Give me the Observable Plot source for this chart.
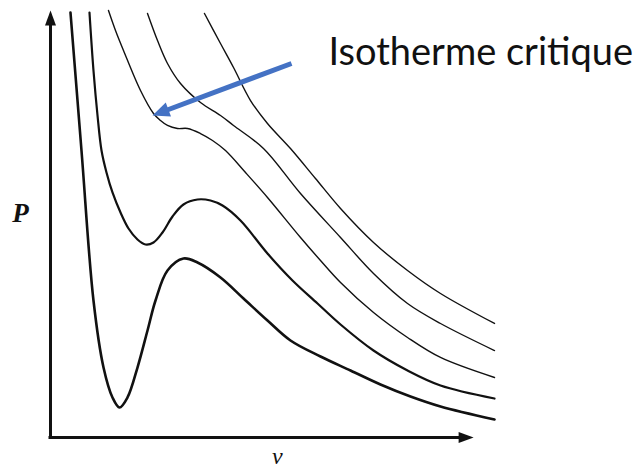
<!DOCTYPE html>
<html>
<head>
<meta charset="utf-8">
<script src="https://cdn.jsdelivr.net/npm/d3@7"></script>
<script src="https://cdn.jsdelivr.net/npm/@observablehq/plot@0.6"></script>
<style>
  html, body { margin: 0; padding: 0; background: #fff; }
  #chart svg { display: block; }
</style>
</head>
<body>
<div id="chart"></div>
<script>
// ---- Data: van der Waals isotherms (v, P in arbitrary units) ----
const iso1V = [0.45, 0.698, 0.968, 1.194, 1.396, 1.554, 1.734, 1.959, 2.185, 2.365, 2.635, 2.995, 3.311, 3.829, 4.347, 4.887, 5.405, 6.081, 6.757, 7.432, 8.108, 8.784, 10.0];
const iso1P = [9.953, 6.721, 3.208, 1.639, 0.937, 0.703, 0.937, 1.639, 2.506, 3.208, 3.911, 4.192, 4.098, 3.747, 3.255, 2.740, 2.272, 1.897, 1.569, 1.241, 0.960, 0.726, 0.422];

const iso2V = [0.878, 0.968, 1.059, 1.149, 1.261, 1.396, 1.577, 1.757, 1.959, 2.140, 2.320, 2.523, 2.748, 2.995, 3.311, 3.604, 3.874, 4.279, 4.887, 5.450, 6.014, 6.532, 7.275, 8.041, 8.784, 10.0];
const iso2P = [9.953, 8.595, 7.541, 6.721, 6.206, 5.738, 5.269, 4.895, 4.637, 4.520, 4.567, 4.801, 5.176, 5.457, 5.574, 5.550, 5.433, 5.082, 4.309, 3.677, 3.138, 2.646, 2.037, 1.569, 1.218, 0.913];

// critical isotherm
const iso3V = [1.306, 1.464, 1.644, 2.027, 2.320, 2.477, 2.635, 2.860, 3.086, 3.378, 3.649, 3.941, 4.392, 4.887, 5.631, 6.081, 6.532, 7.275, 8.041, 8.784, 10.0];
const iso3P = [10.0, 9.532, 9.063, 8.126, 7.588, 7.424, 7.307, 7.237, 7.237, 7.119, 6.956, 6.721, 6.206, 5.621, 4.684, 4.145, 3.630, 2.927, 2.342, 1.874, 1.405];

const iso4V = [2.185, 2.410, 2.635, 2.928, 3.378, 3.829, 4.122, 4.797, 5.631, 6.532, 7.275, 8.041, 8.784, 10.0];
const iso4P = [9.930, 9.297, 8.759, 8.290, 7.845, 7.541, 7.307, 6.768, 5.714, 4.684, 3.841, 3.138, 2.670, 2.037];

const iso5V = [3.468, 3.829, 4.122, 4.505, 4.887, 5.405, 5.968, 6.532, 7.275, 8.041, 8.784, 10.0];
const iso5P = [9.930, 9.227, 8.665, 7.892, 7.354, 6.768, 6.066, 5.363, 4.567, 3.911, 3.372, 2.670];

// axis extents (data units) and annotation anchor points
const axisEndV = 9.53;
const axisEndP = 10.0;
const arrowStart = { v: 5.428, P: 8.759 };
const arrowTip = { v: 2.297, P: 7.541 };

// labels
const annotationLabel = "Isotherme critique";
const yLabel = "P";
const xLabel = "v";

// ---- Layout ----
const W = 641, H = 470;
const mL = 50, mR = 147, mT = 10, mB = 33;
const xDomain = [0, 10], yDomain = [0, 10];

const isotherms = [
  { v: iso1V, P: iso1P, width: 2.6 },
  { v: iso2V, P: iso2P, width: 2.2 },
  { v: iso3V, P: iso3P, width: 1.4 },
  { v: iso4V, P: iso4P, width: 1.4 },
  { v: iso5V, P: iso5P, width: 1.4 }
];

const sx = Plot.scale({ x: { domain: xDomain, range: [mL, W - mR] } });
const sy = Plot.scale({ y: { domain: yDomain, range: [H - mB, mT] } });
const pdx = sx.apply(arrowTip.v) - sx.apply(arrowStart.v);
const pdy = sy.apply(arrowTip.P) - sy.apply(arrowStart.P);
const pLen = Math.hypot(pdx, pdy);
const arrowAngle = Math.atan2(pdx, -pdy) * 180 / Math.PI;
const headLen = 17;
const f = (headLen - 2) / pLen;
const arrowBase = { v: arrowTip.v + (arrowStart.v - arrowTip.v) * f, P: arrowTip.P + (arrowStart.P - arrowTip.P) * f };

const ink = "#111";
const marks = [];

// axes
marks.push(Plot.ruleX([0], { y1: 0, y2: axisEndP - 0.3, stroke: ink, strokeWidth: 3, strokeLinecap: "square" }));
marks.push(Plot.ruleY([0], { x1: 0, x2: axisEndV - 0.3, stroke: ink, strokeWidth: 3, strokeLinecap: "square" }));
marks.push(Plot.vector([
  { v: 0, P: axisEndP, a: 0 },
  { v: axisEndV, P: 0, a: 90 }
], { x: "v", y: "P", rotate: "a", length: 15, r: 5.5, shape: "spike", anchor: "end", fill: ink, stroke: "none" }));

// isotherms
for (const s of isotherms) {
  const rows = s.v.map((v, i) => ({ v, P: s.P[i] }));
  marks.push(Plot.line(rows, { x: "v", y: "P", stroke: ink, strokeWidth: s.width, curve: "catmull-rom" }));
}

// annotation arrow
marks.push(Plot.link([0], { x1: arrowStart.v, y1: arrowStart.P, x2: arrowBase.v, y2: arrowBase.P, stroke: "#4472C4", strokeWidth: 5 }));
marks.push(Plot.vector([arrowTip], { x: "v", y: "P", rotate: arrowAngle, length: headLen, r: 7.5, shape: "spike", anchor: "end", fill: "#4472C4", stroke: "none" }));

// texts
marks.push(Plot.text([annotationLabel], { x: 6.26, y: 9.0, text: d => d, textAnchor: "start", fontSize: 38, fontFamily: "Lato", fill: ink }));
marks.push(Plot.text([yLabel], { x: -0.676, y: 5.24, text: d => d, fontSize: 27, fontFamily: "Liberation Serif", fontStyle: "italic", fontWeight: "bold", fill: ink }));
marks.push(Plot.text([xLabel], { x: 5.11, y: -0.445, text: d => d, fontSize: 24, fontFamily: "Liberation Serif", fontStyle: "italic", fill: ink }));

const chart = Plot.plot({
  width: W,
  height: H,
  marginLeft: mL,
  marginRight: mR,
  marginTop: mT,
  marginBottom: mB,
  x: { domain: xDomain, axis: null },
  y: { domain: yDomain, axis: null },
  style: { background: "#fff" },
  marks
});
document.getElementById("chart").appendChild(chart);
</script>
</body>
</html>
